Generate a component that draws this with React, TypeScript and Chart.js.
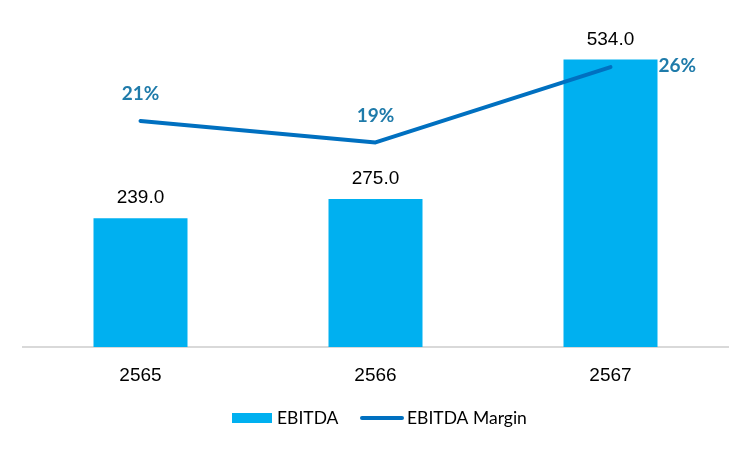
import React, { useEffect, useRef } from "react";
import { Chart, registerables } from "chart.js";

Chart.register(...registerables);

const categories = ["2565", "2566", "2567"];
const ebitda = [239.0, 275.0, 534.0];
const margin = [21, 19, 26];
const seriesNames = ["EBITDA", "EBITDA Margin"];

const BAR_COLOR = "#00B0F0";
const LINE_COLOR = "#0070C0";
const PCT_COLOR = "#1F7BAA";

const labelPlugin = {
  id: "valueLabels",
  afterDatasetsDraw(chart: any) {
    const ctx = chart.ctx;
    ctx.save();
    const barMeta = chart.getDatasetMeta(0);
    ctx.font = "19px 'Liberation Sans', Arial, sans-serif";
    ctx.fillStyle = "#000";
    ctx.textAlign = "center";
    ctx.textBaseline = "alphabetic";
    barMeta.data.forEach((el: any, i: number) => {
      ctx.fillText(ebitda[i].toFixed(1), el.x, el.y - 15);
    });
    const lineMeta = chart.getDatasetMeta(1);
    ctx.font = "bold 19px Lato, 'Noto Sans', sans-serif";
    ctx.fillStyle = PCT_COLOR;
    ctx.textBaseline = "middle";
    lineMeta.data.forEach((el: any, i: number) => {
      const txt = margin[i] + "%";
      if (i === margin.length - 1) {
        ctx.textAlign = "left";
        ctx.fillText(txt, el.x + 48, el.y - 1);
      } else {
        ctx.textAlign = "center";
        ctx.fillText(txt, el.x, el.y - 27);
      }
    });
    ctx.restore();
  },
};

const legendPlugin = {
  id: "customLegend",
  afterDraw(chart: any) {
    const ctx = chart.ctx;
    ctx.save();
    const y = 418;
    ctx.font = "17.5px Lato, 'Noto Sans', sans-serif";
    ctx.fillStyle = "#000";
    ctx.textBaseline = "middle";
    ctx.textAlign = "left";
    ctx.fillStyle = BAR_COLOR;
    ctx.fillRect(232, y - 5, 40, 10);
    ctx.fillStyle = "#000";
    ctx.fillText(seriesNames[0], 277, y);
    ctx.strokeStyle = LINE_COLOR;
    ctx.lineWidth = 4;
    ctx.lineCap = "round";
    ctx.beginPath();
    ctx.moveTo(362, y);
    ctx.lineTo(402, y);
    ctx.stroke();
    ctx.fillText(seriesNames[1], 407, y);
    ctx.restore();
  },
};

export default function App() {
  const ref = useRef<HTMLCanvasElement | null>(null);
  useEffect(() => {
    if (!ref.current) return;
    const chart = new Chart(ref.current, {
      type: "bar",
      data: {
        labels: categories,
        datasets: [
          {
            type: "bar",
            label: seriesNames[0],
            data: ebitda,
            backgroundColor: BAR_COLOR,
            yAxisID: "y",
            categoryPercentage: 1,
            barPercentage: 0.4,
            order: 2,
          },
          {
            type: "line",
            label: seriesNames[1],
            data: margin,
            borderColor: LINE_COLOR,
            backgroundColor: LINE_COLOR,
            borderWidth: 4,
            borderCapStyle: "round",
            borderJoinStyle: "round",
            pointRadius: 0,
            tension: 0,
            yAxisID: "y1",
            order: 1,
          } as any,
        ],
      },
      options: {
        animation: false,
        responsive: true,
        maintainAspectRatio: false,
        layout: { padding: { left: 23, right: 22, top: 24, bottom: 0 } },
        plugins: {
          legend: { display: false },
          tooltip: { enabled: false },
        },
        scales: {
          x: {
            grid: { display: false },
            border: { display: true, color: "#D9D9D9", width: 2 },
            ticks: {
              color: "#000",
              font: { size: 19, family: "'Liberation Sans', Arial, sans-serif" },
              padding: 9,
            },
            afterFit: (s: any) => {
              s.height = 103;
            },
          },
          y: { display: false, min: 0, max: 600 },
          y1: { display: false, min: 0, max: 30, position: "right" },
        },
      },
      plugins: [labelPlugin, legendPlugin],
    });
    return () => chart.destroy();
  }, []);
  return (
    <div style={{ position: "fixed", left: 0, top: 0, width: 750, height: 450, background: "#fff" }}>
      <canvas ref={ref} />
    </div>
  );
}
